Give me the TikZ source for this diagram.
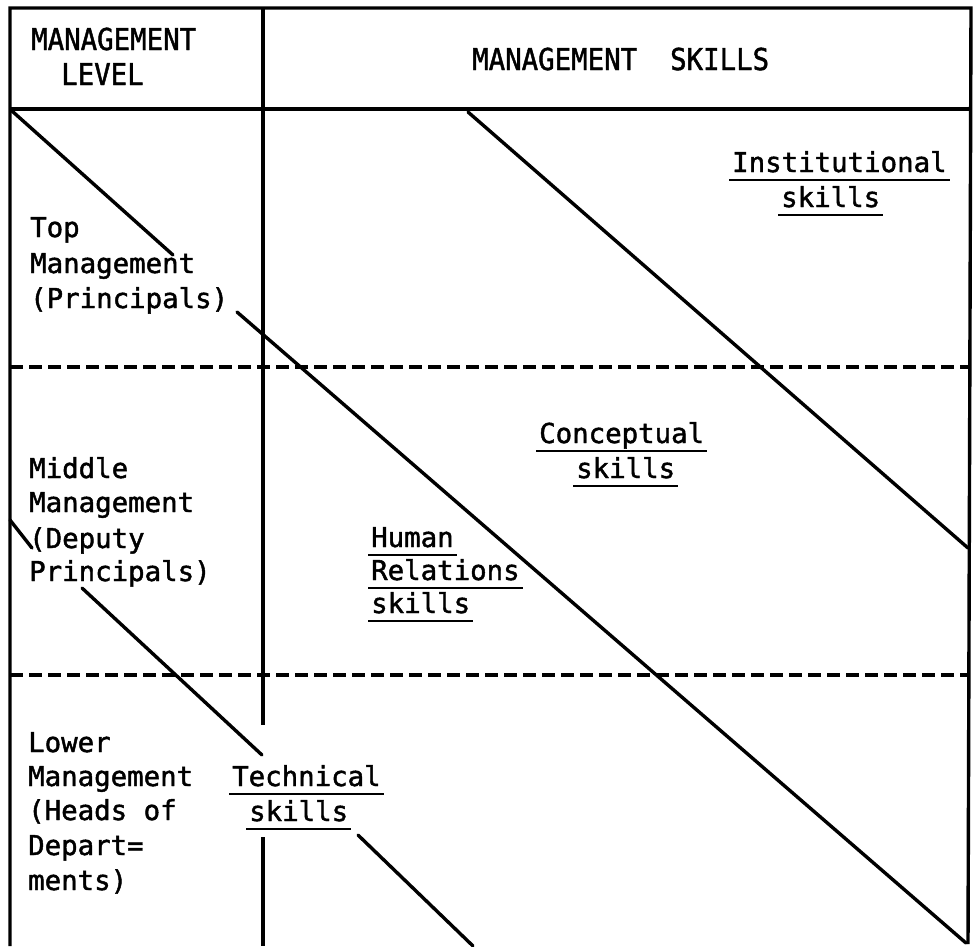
\documentclass[tikz,border=0pt]{standalone}
\usepackage{fontspec}
\newfontfamily\tw[FakeBold=1.6]{DejaVu Sans Mono}
\begin{document}
\begin{tikzpicture}[x=1pt,y=-1pt,
  frame/.style={line width=3.4pt},
  diag/.style={line width=3.4pt,line cap=round},
  sep/.style={line width=3.4pt,dash pattern=on 13pt off 6pt},
  ul/.style={line width=2.2pt},
  lbl/.style={font=\tw\fontsize{27.4}{34}\selectfont,inner sep=0pt,anchor=base west},
  hdr/.style={lbl,yscale=1.1,transform shape}]
\useasboundingbox (0,0) rectangle (974,946);
% frame
\coordinate (tl) at (10,8);
\coordinate (tr) at (971,8);
\coordinate (bl) at (10,946);
\coordinate (br) at (968,944);
\coordinate (hl) at (10,109);
\coordinate (hr) at (970,109);
\draw[frame] (bl) -- (tl) -- (tr) -- (br);
\draw[frame] (hl) -- (hr);
\coordinate (dv1) at (263,8);
\coordinate (dv2) at (263,725);
\coordinate (dv3) at (263,837);
\coordinate (dv4) at (263,946);
\draw[frame] (dv1) -- (dv2);
\draw[frame] (dv3) -- (dv4);
% dashed separators
\coordinate (s1l) at (10,367); \coordinate (s1r) at (969,367);
\coordinate (s2l) at (10,675); \coordinate (s2r) at (969,675);
\draw[sep] (s1l) -- (s1r);
\draw[sep] (s2l) -- (s2r);
% header text
\node[hdr] (h1) at (31,50) {MANAGEMENT};
\node[hdr] (h2) at (61,85) {LEVEL};
\node[hdr] (h3) at (472,70) {MANAGEMENT\ \ SKILLS};
% level labels
\node[lbl] (t1) at (30,237) {Top};
\node[lbl] (t2) at (30,273) {Management};
\node[lbl] (t3) at (30,308) {(Principals)};
\node[lbl] (m1) at (29,478) {Middle};
\node[lbl] (m2) at (29,512) {Management};
\node[lbl] (m3) at (29,548) {(Deputy};
\node[lbl] (m4) at (29,581) {Principals)};
\node[lbl] (l1) at (28,752) {Lower};
\node[lbl] (l2) at (28,786) {Management};
\node[lbl] (l3) at (28,820) {(Heads of};
\node[lbl] (l4) at (28,855) {Depart=};
\node[lbl] (l5) at (28,890) {ments)};
% skill labels
\node[lbl] (k1) at (232,786) {Technical};
\node[lbl] (k2) at (249,821) {skills};
\node[lbl] (i1) at (732,172) {Institutional};
\node[lbl] (i2) at (781,207) {skills};
\node[lbl] (c1) at (539,443) {Conceptual};
\node[lbl] (c2) at (576,478) {skills};
\node[lbl] (r1) at (371,547) {Human};
\node[lbl] (r2) at (371,580) {Relations};
\node[lbl] (r3) at (371,613) {skills};
\foreach \n in {k1,k2,i1,i2,c1,c2,r1,r2,r3}
  \draw[ul] ([xshift=-3pt,yshift=-8pt]\n.base west) -- ([xshift=3pt,yshift=-8pt]\n.base east);
% diagonals
\coordinate (a1) at (12,111); \coordinate (a2) at (173,255);
\draw[diag] (a1) -- (a2);
\coordinate (b1) at (237,312); \coordinate (b2) at (966,943);
\draw[diag] (b1) -- (b2);
\coordinate (c1p) at (468,112); \coordinate (c2p) at (968,548);
\draw[diag] (c1p) -- (c2p);
\coordinate (d1) at (10,520); \coordinate (d2) at (32,548);
\coordinate (d3) at (82,588); \coordinate (d4) at (262,755);
\coordinate (d5) at (358,835); \coordinate (d6) at (473,946);
\draw[diag] (d1) -- (d2);
\draw[diag] (d3) -- (d4);
\draw[diag] (d5) -- (d6);
\end{tikzpicture}
\end{document}
